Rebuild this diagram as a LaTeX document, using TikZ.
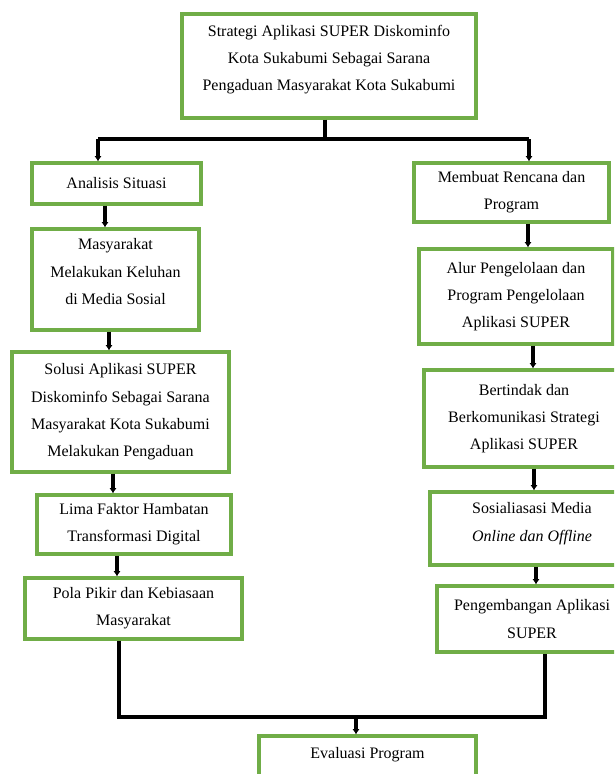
\documentclass[tikz,border=0pt]{standalone}
\usepackage{fontspec}
\setmainfont{Liberation Serif}
\usetikzlibrary{arrows.meta}

\definecolor{hijau}{HTML}{70AD47}

\tikzset{
  kotak/.style={draw=hijau, line width=2.4pt, align=center, inner sep=0pt,
    font=\fontsize{12pt}{20.5pt}\selectfont},
  garis/.style={draw=black, line width=2.4pt},
  panah/.style={garis, -{Latex[length=4pt,width=5.5pt]}}
}

\begin{document}
\begin{tikzpicture}[x=0.75pt,y=-0.75pt]

                  \useasboundingbox (0,0) rectangle (614,774);
                  \clip (0,0) rectangle (614,774);

                  % kotak utama
                  \node[kotak, minimum width=220.5pt, minimum height=78pt, text depth=12pt] (atas) at (329,66)
                        {Strategi Aplikasi SUPER Diskominfo\\Kota Sukabumi Sebagai Sarana\\Pengaduan Masyarakat Kota Sukabumi};

                  % kolom kiri
                  \node[kotak, minimum width=126.75pt, minimum height=30.75pt] (analisis) at (116.5,183.5) {Analisis Situasi};
                  \node[kotak, minimum width=125.25pt, minimum height=75.75pt, text depth=12pt] (keluhan) at (115.5,279.5)
                        {Masyarakat\\Melakukan Keluhan\\di Media Sosial};
                  \node[kotak, minimum width=162.75pt, minimum height=90pt] (solusi) at (120.5,412)
                        {Solusi Aplikasi SUPER\\Diskominfo Sebagai Sarana\\Masyarakat Kota Sukabumi\\Melakukan Pengaduan};
                  \node[kotak, minimum width=145.5pt, minimum height=44.25pt] (hambatan) at (134,524.5)
                        {Lima Faktor Hambatan\\Transformasi Digital};
                  \node[kotak, minimum width=162.75pt, minimum height=45.75pt] (polapikir) at (133.5,608.5)
                        {Pola Pikir dan Kebiasaan\\Masyarakat};

                  % kolom kanan
                  \node[kotak, minimum width=146.25pt, minimum height=44.25pt] (rencana) at (511.5,192.5)
                        {Membuat Rencana dan\\Program};
                  \node[kotak, minimum width=145.5pt, minimum height=71.25pt] (alur) at (516,296.5)
                        {Alur Pengelolaan dan\\Program Pengelolaan\\Aplikasi SUPER};
                  \node[kotak, minimum width=150pt, minimum height=72.75pt] (bertindak) at (524,418.5)
                        {Bertindak dan\\Berkomunikasi Strategi\\Aplikasi SUPER};
                  \node[kotak, minimum width=153pt, minimum height=54.75pt, text depth=10pt] (sosialisasi) at (532,528.5)
                        {Sosialiasasi Media\\\textit{Online dan Offline}};
                  \node[kotak, minimum width=142.5pt, minimum height=49.5pt] (pengembangan) at (532,619)
                        {Pengembangan Aplikasi\\SUPER};

                  % kotak bawah
                  \node[kotak, minimum width=162.75pt, minimum height=31.5pt, text depth=6pt] (evaluasi) at (367.5,757)
                        {Evaluasi Program};

                  % cabang atas
                  \coordinate (cabangkiri) at (98,139);
                  \coordinate (cabangkanan) at (529,139);
                  \draw[garis] (atas.south -| 325,0) -- (cabangkiri -| 325,0);
                  \draw[garis] (cabangkiri) -- (cabangkanan);
                  \draw[panah] (cabangkiri) -- (analisis.north -| cabangkiri);
                  \draw[panah] (cabangkanan) -- (rencana.north -| cabangkanan);

                  % panah kiri
                  \draw[panah] (analisis.south -| 105,0) -- (keluhan.north -| 105,0);
                  \draw[panah] (keluhan.south -| 109,0) -- (solusi.north -| 109,0);
                  \draw[panah] (solusi.south -| 113,0) -- (hambatan.north -| 113,0);
                  \draw[panah] (hambatan.south -| 117,0) -- (polapikir.north -| 117,0);

                  % panah kanan
                  \draw[panah] (rencana.south -| 528,0) -- (alur.north -| 528,0);
                  \draw[panah] (alur.south -| 533,0) -- (bertindak.north -| 533,0);
                  \draw[panah] (bertindak.south -| 534,0) -- (sosialisasi.north -| 534,0);
                  \draw[panah] (sosialisasi.south -| 536,0) -- (pengembangan.north -| 536,0);

                  % gabungan bawah
                  \coordinate (gabung) at (356,717);
                  \draw[garis] (polapikir.south -| 119,0) |- (gabung) -| (pengembangan.south -| 545,0);
                  \draw[panah] (gabung) -- (evaluasi.north -| gabung);

              \end{tikzpicture}
\end{document}
